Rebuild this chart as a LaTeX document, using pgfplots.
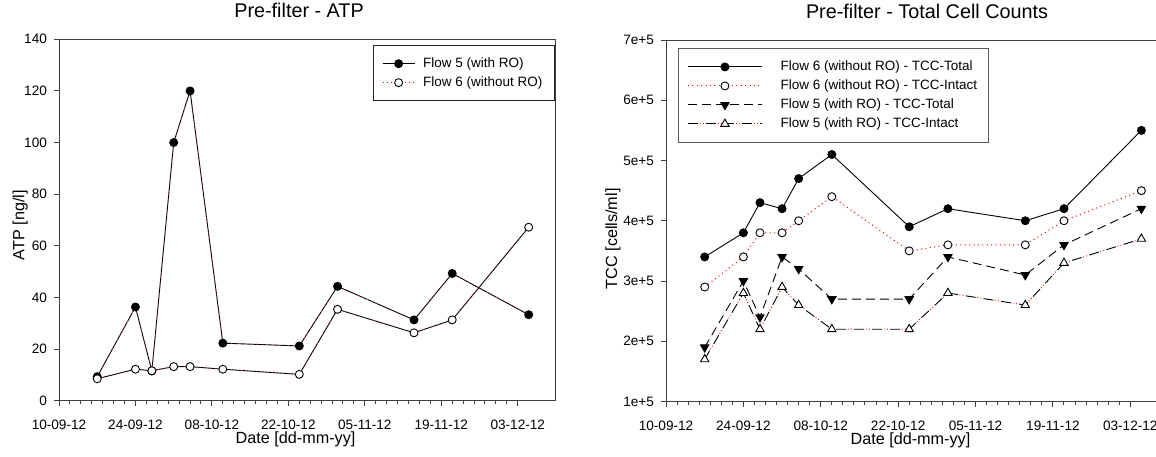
\documentclass[border=0pt]{standalone}
\usepackage{fontspec}
\setmainfont{Liberation Sans}
\usepackage{pgfplots}
\usepackage{pgfplotstable}
\pgfplotsset{compat=1.18}
\pgfplotstableread{
day f5 f6
7 9.3 8.5
14 36.3 12.2
17 11.5 11.6
21 100 13.2
24 120 13.2
30 22.3 12.2
44 21.2 10.2
51 44.3 35.4
65 31.3 26.3
72 49.3 31.3
86 33.3 67.2
}\atp
\pgfplotstableread{
day f6t f6i f5t f5i
7 340000 290000 190000 170000
14 380000 340000 300000 280000
17 430000 380000 240000 220000
21 420000 380000 340000 290000
24 470000 400000 320000 260000
30 510000 440000 270000 220000
44 390000 350000 270000 220000
51 420000 360000 340000 280000
65 400000 360000 310000 260000
72 420000 400000 360000 330000
86 550000 450000 420000 370000
}\tcc
\definecolor{axgray}{gray}{0.25}
\newcommand{\labfont}{\fontsize{8.1}{9}\selectfont}
\begin{document}
\begin{tikzpicture}[x=1pt,y=1pt]
\pgfplotsset{
  every axis/.append style={
    scale only axis,
    axis line style={axgray, line width=0.5pt},
    every tick/.style={axgray, line width=0.5pt},
    tick align=outside,
    xtick pos=bottom, ytick pos=left,
    major tick length=2.5pt, minor tick length=1.5pt,
    xmin=0, xmax=91,
    xtick={0,14,28,42,56,70,84},
    xticklabels={10-09-12,24-09-12,08-10-12,22-10-12,05-11-12,19-11-12,03-12-12},
    minor x tick num=6,
    scaled y ticks=false,
    ticklabel style={font=\fontsize{6.8}{8}\selectfont},
    /pgf/number format/assume math mode=true,
    xticklabel style={anchor=north, yshift=-3.8pt},
    yticklabel style={anchor=east},
    title style={anchor=base, font=\fontsize{9.9}{11}\selectfont},
    legend cell align=left,
  },
  lin/.style={black, line width=0.45pt},
  rdot/.style={red, line width=0.5pt, dash pattern=on 0.5pt off 1.7pt},
  rdotfaint/.style={red!80, line width=0.35pt, dash pattern=on 0.4pt off 2.2pt},
  fcirc/.style={only marks, mark=*, mark size=2pt, mark options={draw=black, fill=black, line width=0.45pt, solid}},
  ocirc/.style={only marks, mark=*, mark size=2pt, mark options={draw=black, fill=white, line width=0.45pt, solid}},
}
% ---------- Left: ATP ----------
\begin{axis}[
  at={(29.5pt,27.65pt)}, anchor=south west,
  width=248.5pt, height=180.7pt,
  ymin=0, ymax=140, ytick={0,20,...,140},
  title={Pre-filter - ATP},
  title style={at={(axis description cs:0.483,1.0277)}},
  xlabel={\labfont Date [dd-mm-yy]},
  xlabel style={at={(axis description cs:0.476,-0.118)}, anchor=base, font=\labfont},
  ylabel={\labfont ATP [ng/l]},
  ylabel style={at={(axis description cs:-0.0698,0.486)}, anchor=base, font=\labfont},
  legend style={at={(rel axis cs:0.997,0.984)}, anchor=north east,
    draw=black!85, line width=0.5pt, inner sep=4.3pt,
    font=\fontsize{6.75}{8}\selectfont, row sep=0pt,
    nodes={inner sep=1.5pt, text height=5pt, text depth=1.5pt},
    /tikz/every odd column/.append style={column sep=2.5pt}},
  legend image code/.code={\draw[mark repeat=2,mark phase=2,#1] plot coordinates {(0pt,0pt) (8pt,0pt) (16pt,0pt)};},
]
\addplot[lin, forget plot] table[x=day,y=f5] {\atp};
\addplot[rdotfaint, forget plot] table[x=day,y=f5] {\atp};
\addplot[lin, forget plot] table[x=day,y=f6] {\atp};
\addplot[rdotfaint, forget plot] table[x=day,y=f6] {\atp};
\addplot[fcirc, forget plot] table[x=day,y=f5] {\atp};
\addplot[ocirc, forget plot] table[x=day,y=f6] {\atp};
\addlegendimage{lin, mark=*, mark size=2pt, mark options={draw=black, fill=black}}
\addlegendentry{Flow 5 (with RO)}
\addlegendimage{rdot, mark=*, mark size=2pt, mark options={draw=black, fill=white, solid, line width=0.45pt}}
\addlegendentry{Flow 6 (without RO)}
\end{axis}
% ---------- Right: TCC ----------
\begin{axis}[
  at={(333pt,27.25pt)}, anchor=south west,
  width=251.5pt, height=180.75pt,
  ymin=100000, ymax=700000,
  ytick={100000,200000,300000,400000,500000,600000,700000},
  yticklabels={1e+5,2e+5,3e+5,4e+5,5e+5,6e+5,7e+5},
  title={Pre-filter - Total Cell Counts},
  title style={at={(axis description cs:0.519,1.0277)}},
  xlabel={\labfont Date [dd-mm-yy]},
  xlabel style={at={(axis description cs:0.486,-0.118)}, anchor=base, font=\labfont},
  ylabel={\labfont TCC [cells/ml]},
  ylabel style={at={(axis description cs:-0.0974,0.45)}, anchor=base, font=\labfont},
  legend style={at={(rel axis cs:0.0245,0.977)}, anchor=north west,
    draw=black!65, line width=0.5pt, inner sep=4.3pt,
    font=\fontsize{6.75}{8}\selectfont, row sep=0pt,
    nodes={inner sep=1.5pt, text height=5pt, text depth=1.5pt},
    /tikz/every odd column/.append style={column sep=7.6pt}},
  legend image code/.code={\draw[mark repeat=2,mark phase=2,#1] plot coordinates {(0pt,0pt) (18.5pt,0pt) (37pt,0pt)};},
]
\addplot[lin, forget plot] table[x=day,y=f6t] {\tcc};
\addplot[rdot, forget plot] table[x=day,y=f6i] {\tcc};
\addplot[lin, dash pattern=on 4.5pt off 2.5pt, forget plot] table[x=day,y=f5t] {\tcc};
\addplot[lin, dash pattern=on 5pt off 4pt, forget plot] table[x=day,y=f5i] {\tcc};
\addplot[red, line width=0.5pt, dash pattern=on 0pt off 5.8pt on 0.4pt off 1.2pt on 0.4pt off 1.2pt, forget plot] table[x=day,y=f5i] {\tcc};
\addplot[fcirc, forget plot] table[x=day,y=f6t] {\tcc};
\addplot[ocirc, forget plot] table[x=day,y=f6i] {\tcc};
\addplot[only marks, mark=triangle*, mark size=2.4pt, mark options={rotate=180, draw=black, fill=black, line width=0.45pt}, forget plot] table[x=day,y=f5t] {\tcc};
\addplot[only marks, mark=triangle*, mark size=2.4pt, mark options={draw=black, fill=white, line width=0.45pt}, forget plot] table[x=day,y=f5i] {\tcc};
\addlegendimage{lin, mark=*, mark size=2pt, mark options={draw=black, fill=black}}
\addlegendentry{Flow 6 (without RO) - TCC-Total}
\addlegendimage{rdot, mark=*, mark size=2pt, mark options={draw=black, fill=white, solid, line width=0.45pt}}
\addlegendentry{Flow 6 (without RO) - TCC-Intact\hspace{7pt}}
\addlegendimage{lin, dash pattern=on 4.5pt off 2.5pt, mark=triangle*, mark size=2.4pt, mark options={rotate=180, draw=black, fill=black, solid}}
\addlegendentry{Flow 5 (with RO) - TCC-Total}
\addlegendimage{legend image code/.code={
  \draw[black, line width=0.45pt, dash pattern=on 5pt off 4pt] (0pt,0pt) -- (37pt,0pt);
  \draw[red, line width=0.5pt, dash pattern=on 0pt off 5.8pt on 0.4pt off 1.2pt on 0.4pt off 1.2pt] (0pt,0pt) -- (37pt,0pt);
  \draw[black, fill=white, line width=0.45pt] plot[only marks, mark=triangle*, mark size=2.4pt] coordinates {(18.5pt,0pt)};
}}
\addlegendentry{Flow 5 (with RO) - TCC-Intact}
\end{axis}
\pgfresetboundingbox
\path[use as bounding box] (0pt,0pt) rectangle (578pt,228pt);
\end{tikzpicture}
\end{document}
